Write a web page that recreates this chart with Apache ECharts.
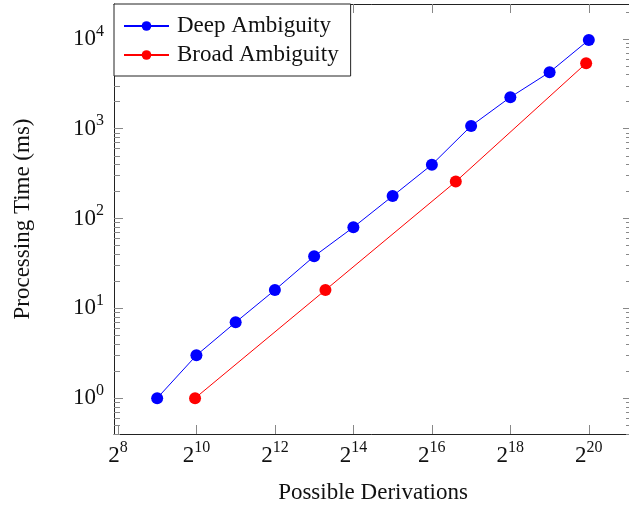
<!DOCTYPE html>
<html>
<head>
<meta charset="utf-8">
<script src="https://cdn.jsdelivr.net/npm/echarts@6/dist/echarts.min.js"></script>
<style>html,body{margin:0;padding:0;background:#fff;}#chart{width:629px;height:506px;}</style>
</head>
<body>
<div id="chart"></div>
<script>
// Data
const deepDerivations = [512, 1024, 2048, 4096, 8192, 16384, 32768, 65536, 131072, 262144, 524288, 1048576];
const deepTime = [1, 3, 7, 16, 38, 80, 178, 398, 1075, 2245, 4260, 9750];
const broadDerivations = [1000, 10000, 100000, 1000000];
const broadTime = [1, 16, 258, 5360];
const seriesNames = ['Deep Ambiguity', 'Broad Ambiguity'];
const xTickExponents = [8, 10, 12, 14, 16, 18, 20];   // powers of 2
const yTickExponents = [0, 1, 2, 3, 4];               // powers of 10
const xLabel = 'Possible Derivations';
const yLabel = 'Processing Time (ms)';

// axis extents in exponent space
const xExpMin = 7.9, xExpMax = 21.1;
const yExpMin = -0.399, yExpMax = 4.389;

const yMinorExp = [];
for (let k = -1; k <= 4; k++) {
  for (let m = 2; m <= 9; m++) {
    const e = Math.log10(m) + k;
    if (e > yExpMin && e < yExpMax) yMinorExp.push(e);
  }
}

const FONT = 'Liberation Serif';
const rich = {
  b: { fontFamily: FONT, fontSize: 23, color: '#111' },
  s: { fontFamily: FONT, fontSize: 16, color: '#111', padding: [0, 0, 15, 0] }
};
const tickColor = '#888';
const lineColor = '#222';

function decoX(pos, labels) {
  return {
    type: 'value', position: pos, min: xExpMin, max: xExpMax, gridIndex: 0,
    splitLine: { show: false },
    axisLine: { show: true, onZero: false, lineStyle: { color: lineColor, width: 1 } },
    axisTick: { show: true, inside: true, length: 9, customValues: xTickExponents, lineStyle: { color: tickColor } },
    axisLabel: labels ? {
      show: true, customValues: xTickExponents, margin: 6,
      formatter: v => '{b|2}{s|' + v + '}', rich: rich
    } : { show: false },
    name: labels ? xLabel : '', nameLocation: 'middle', nameGap: 47,
    nameTextStyle: { fontFamily: FONT, fontSize: 23, color: '#111' }
  };
}
function decoY(pos, major, labels) {
  const vals = major ? yTickExponents : yMinorExp;
  return {
    type: 'value', position: pos, min: yExpMin, max: yExpMax, gridIndex: 0,
    splitLine: { show: false },
    axisLine: { show: major, onZero: false, lineStyle: { color: lineColor, width: 1 } },
    axisTick: { show: true, inside: true, length: major ? 9 : 6, customValues: vals, lineStyle: { color: tickColor } },
    axisLabel: labels ? {
      show: true, customValues: yTickExponents, margin: 10,
      formatter: v => '{b|10}{s|' + v + '}', rich: rich
    } : { show: false },
    name: labels ? yLabel : '', nameLocation: 'middle', nameGap: 80, nameRotate: 90,
    nameTextStyle: { fontFamily: FONT, fontSize: 23, color: '#111' }
  };
}

const option = {
  animation: false,
  backgroundColor: '#fff',
  grid: { left: 114, top: 4, width: 518, height: 430, containLabel: false, outerBoundsMode: 'none' },
  xAxis: [
    { type: 'log', logBase: 2, min: Math.pow(2, xExpMin), max: Math.pow(2, xExpMax), show: false },
    decoX('bottom', true),
    decoX('top', false)
  ],
  yAxis: [
    { type: 'log', logBase: 10, min: Math.pow(10, yExpMin), max: Math.pow(10, yExpMax), show: false },
    decoY('left', true, true),
    decoY('left', false, false),
    decoY('right', true, false),
    decoY('right', false, false)
  ],
  legend: {
    orient: 'vertical', left: 114, top: 4,
    data: seriesNames,
    backgroundColor: '#fff', borderColor: lineColor, borderWidth: 1, borderRadius: 0,
    padding: [9, 12, 8, 9], itemGap: 3, itemWidth: 45, itemHeight: 12,
    textStyle: { fontFamily: FONT, fontSize: 23, color: '#111', lineHeight: 26, padding: [0, 0, 0, 3] }
  },
  series: [
    {
      name: seriesNames[0], type: 'line', xAxisIndex: 0, yAxisIndex: 0,
      data: deepDerivations.map((x, i) => [x, deepTime[i]]),
      symbol: 'circle', symbolSize: 12,
      lineStyle: { color: '#0000ff', width: 1 }, itemStyle: { color: '#0000ff' }
    },
    {
      name: seriesNames[1], type: 'line', xAxisIndex: 0, yAxisIndex: 0,
      data: broadDerivations.map((x, i) => [x, broadTime[i]]),
      symbol: 'circle', symbolSize: 12,
      lineStyle: { color: '#ff0000', width: 1 }, itemStyle: { color: '#ff0000' }
    }
  ]
};
const chart = echarts.init(document.getElementById('chart'), null, { renderer: 'canvas' });
chart.setOption(option);
</script>
</body>
</html>
